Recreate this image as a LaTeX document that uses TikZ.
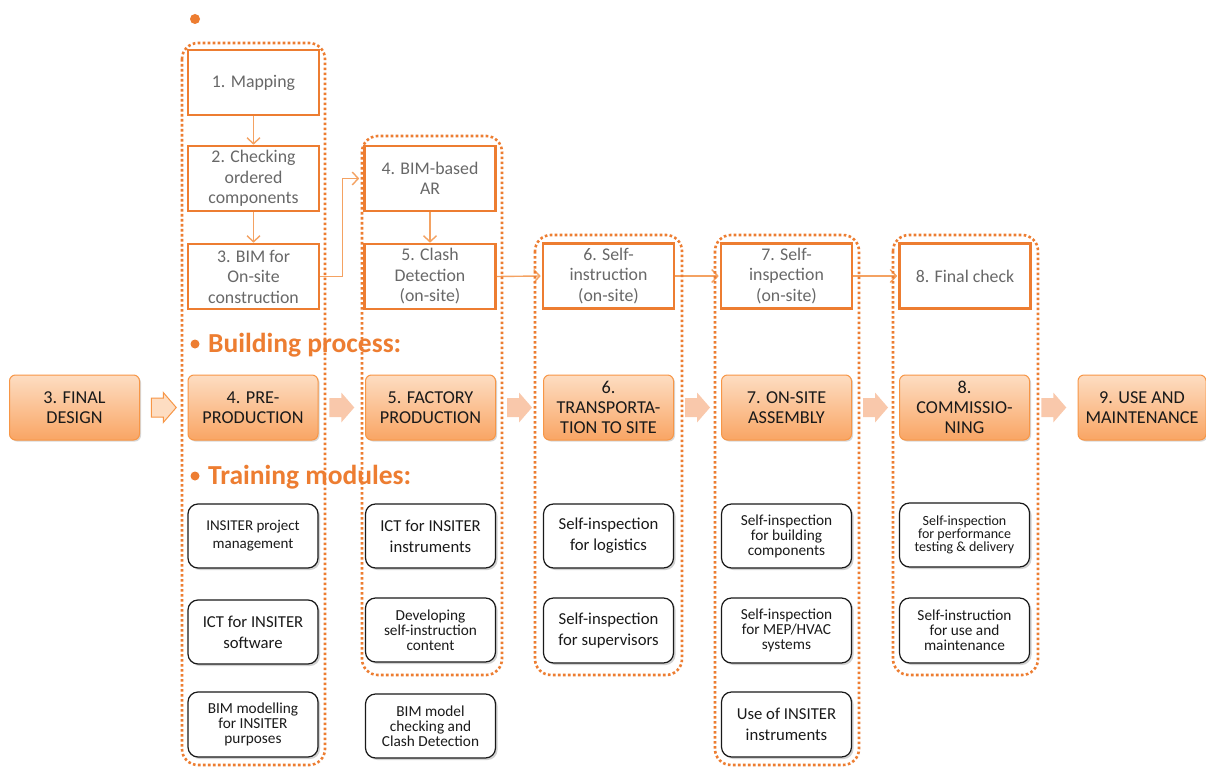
\documentclass[tikz,border=0pt]{standalone}
\usepackage{fontspec}
\setmainfont{Carlito}
\usetikzlibrary{shadows,arrows.meta,calc}
\definecolor{org}{HTML}{ED7D31}
\definecolor{orgl}{HTML}{F4A262}
\definecolor{graytxt}{HTML}{686868}
\definecolor{peach}{HTML}{F9C8AB}
\definecolor{pbord}{HTML}{F79646}
\definecolor{ptop}{HTML}{FDDDC2}
\definecolor{pbot}{HTML}{F9A564}
\definecolor{dtxt}{HTML}{1A1A1A}
\tikzset{
  topbox/.style={draw=org, line width=2.6pt, fill=white, text=graytxt, align=center,
    minimum width=131, minimum height=65, inner sep=1pt, font=\fontsize{17.8}{20.5}\selectfont},
  procbox/.style={draw=pbord, line width=1pt, rounded corners=6pt, top color=ptop, bottom color=pbot,
    align=center, minimum width=130, minimum height=65, inner sep=1pt, text=dtxt,
    font=\fontsize{18.2}{20}\selectfont,
    drop shadow={shadow xshift=1.5pt, shadow yshift=-1.5pt, opacity=0.3}},
  trainbox/.style={draw=black!90, line width=1.2pt, rounded corners=10pt, fill=white, align=center,
    minimum width=130, minimum height=64, inner sep=1pt, text=dtxt,
    drop shadow={shadow xshift=2pt, shadow yshift=-2pt, opacity=0.35}},
  fbig/.style={font=\fontsize{16.7}{21}\selectfont},
  fmid/.style={font=\fontsize{15}{18}\selectfont},
  fsmall/.style={font=\fontsize{15.3}{15}\selectfont},
  ftiny/.style={font=\fontsize{14}{13}\selectfont},
  container/.style={draw=org, line width=2.6pt, dash pattern=on 2.6pt off 2.4pt, rounded corners=16pt},
  thinarrow/.style={draw=orgl, line width=1.4pt, -{Straight Barb[length=6pt,width=13pt]}},
  heading/.style={anchor=base west, inner sep=0pt, text=org, font=\bfseries\fontsize{27.5}{27.5}\selectfont},
  blockarrow/.pic={\path[pic actions] (-12.5,-9.5) -- (-0.5,-9.5) -- (-0.5,-15) -- (12.5,0) -- (-0.5,15) -- (-0.5,9.5) -- (-12.5,9.5) -- cycle;},
}
\begin{document}
\begin{tikzpicture}[x=1pt,y=-1pt]
\useasboundingbox (0,0) rectangle (1206,767);
\fill[white] (0,0) rectangle (1206,767);
% top dot
\fill[org] (195,19) circle (5);
% top boxes
\node[topbox] (b1) at (253.5,82.5) {1. Mapping};
\node[topbox] (b2) at (253.5,178.5) {2. Checking\\ordered\\components};
\node[topbox] (b3) at (253.5,276.5) {3. BIM for\\On-site\\construction};
\node[topbox] (b4) at (430,178.5) {4. BIM-based\\AR};
\node[topbox] (b5) at (430,276.5) {5. Clash\\Detection\\(on-site)};
\node[topbox] (b6) at (608.5,276) {6. Self-\\instruction\\(on-site)};
\node[topbox] (b7) at (786.5,276) {7. Self-\\inspection\\(on-site)};
\node[topbox] (b8) at (965,276) {8. Final check};
% thin arrows
\draw[thinarrow] (b1.south) -- (b2.north);
\draw[thinarrow] (b2.south) -- (b3.north);
\draw[thinarrow] (b3.east) -- ++(22,0) |- ([xshift=-4pt]b4.west);
\draw[thinarrow] (b4.south) -- (b5.north);
\draw[thinarrow] (b5.east) -- ([xshift=-1pt]b6.west);
\draw[thinarrow] (b6.east) -- ([xshift=-1pt]b7.west);
\draw[thinarrow] (b7.east) -- ([xshift=-1pt]b8.west);
% headings
\fill[org] (195,344) circle (4.5);
\node[heading] (hb) at (208,352) {Building process:};
\fill[org] (195,476) circle (4.5);
\node[heading] (ht) at (208,484) {Training modules:};
% process boxes
\node[procbox] (p3) at (74.5,407.5) {3. FINAL\\DESIGN};
\node[procbox] (p4) at (253,407.5) {4. PRE-\\PRODUCTION};
\node[procbox] (p5) at (430.5,407.5) {5. FACTORY\\PRODUCTION};
\node[procbox] (p6) at (608.5,407.5) {6.\\TRANSPORTA-\\TION TO SITE};
\node[procbox] (p7) at (786.5,407.5) {7. ON-SITE\\ASSEMBLY};
\node[procbox] (p8) at (964.5,407.5) {8.\\COMMISSIO-\\NING};
\node[procbox, minimum width=128] (p9) at (1142,407.5) {9. USE AND\\MAINTENANCE};
% block arrows
\pic[draw=pbord, line width=1pt, fill=ptop] at ($(p3.east)!0.5!(p4.west)$) {blockarrow};
\pic[fill=peach] at ($(p4.east)!0.5!(p5.west)$) {blockarrow};
\pic[fill=peach] at ($(p5.east)!0.5!(p6.west)$) {blockarrow};
\pic[fill=peach] at ($(p6.east)!0.5!(p7.west)$) {blockarrow};
\pic[fill=peach] at ($(p7.east)!0.5!(p8.west)$) {blockarrow};
\pic[fill=peach] at ($(p8.east)!0.5!(p9.west)$) {blockarrow};
% training boxes
\node[trainbox, fmid] (t11) at (253,536) {INSITER project\\management};
\node[trainbox, fbig] (t12) at (253,632) {ICT for INSITER\\software};
\node[trainbox, fsmall, minimum height=65] (t13) at (253,724.5) {BIM modelling\\for INSITER\\purposes};
\node[trainbox, fbig] (t21) at (430.5,536) {ICT for INSITER\\instruments};
\node[trainbox, fsmall] (t22) at (430.5,630) {Developing\\self-instruction\\content};
\node[trainbox, fsmall] (t23) at (430.5,726) {BIM model\\checking and\\Clash Detection};
\node[trainbox, fbig] (t31) at (608.5,536) {Self-inspection\\for logistics};
\node[trainbox, fbig, minimum height=65] (t32) at (608.5,630.5) {Self-inspection\\for supervisors};
\node[trainbox, fsmall] (t41) at (786.5,536) {Self-inspection\\for building\\components};
\node[trainbox, fsmall, minimum height=65] (t42) at (786.5,630.5) {Self-inspection\\for MEP/HVAC\\systems};
\node[trainbox, fbig, minimum height=65] (t43) at (786.5,724.5) {Use of INSITER\\instruments};
\node[trainbox, ftiny] (t51) at (964.5,535) {Self-inspection\\for performance\\testing \& delivery};
\node[trainbox, fsmall, minimum height=65] (t52) at (964.5,630.5) {Self-instruction\\for use and\\maintenance};
% dotted containers
\draw[container] (182,43) rectangle (325,765);
\draw[container] (362,136) rectangle (502,675);
\draw[container] (535,235) rectangle (682,675);
\draw[container] (715,235) rectangle (859,765);
\draw[container] (893,235) rectangle (1038,675);
\end{tikzpicture}
\end{document}
